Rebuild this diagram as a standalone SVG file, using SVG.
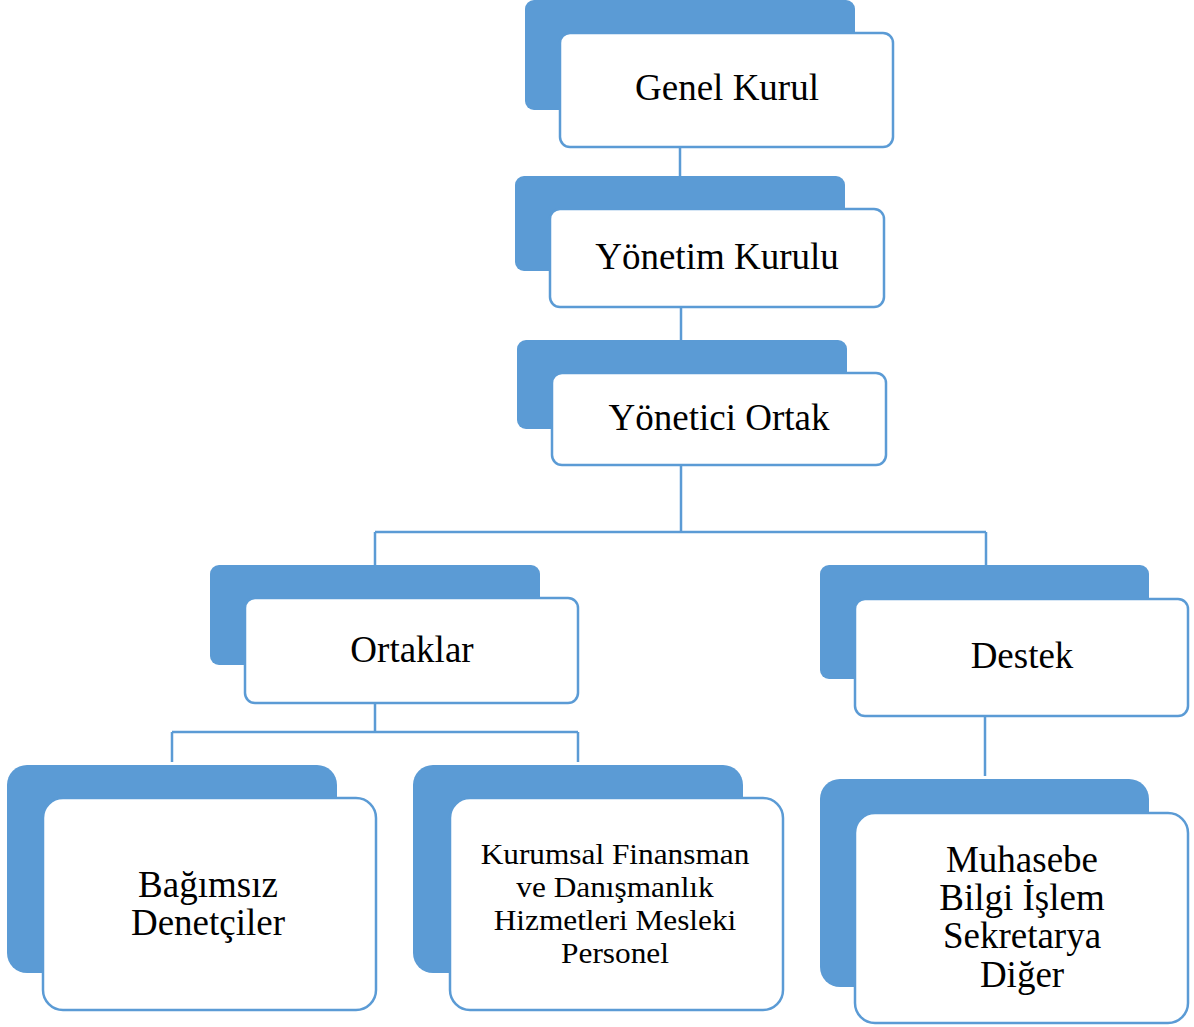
<svg xmlns="http://www.w3.org/2000/svg" width="1194" height="1027" viewBox="0 0 1194 1027">
<style>
.back{fill:#5B9BD5;}
.front{fill:#FFFFFF;stroke:#5B9BD5;stroke-width:2.5;}
.conn{fill:none;stroke:#5B9BD5;stroke-width:2.5;}
.t{font-family:"Liberation Serif","Times New Roman",serif;font-size:37px;fill:#000;text-anchor:middle;}
.s{font-family:"Liberation Serif","Times New Roman",serif;font-size:29px;fill:#000;text-anchor:middle;}
</style>
<rect width="1194" height="1027" fill="#FFFFFF"/>
<g id="connectors">
<path class="conn" d="M680,147 V176"/>
<path class="conn" d="M681,307 V340"/>
<path class="conn" d="M681,465 V532 M375,532 H986 M375,532 V565 M986,532 V565"/>
<path class="conn" d="M375,703 V732 M172,732 H578 M172,732 V762 M578,732 V762"/>
<path class="conn" d="M985,716 V776"/>
</g>
<g id="genel-kurul">
<rect class="back" x="525" y="0" width="330" height="110" rx="9"/>
<rect class="front" x="560" y="33" width="333" height="114" rx="10"/>
<text class="t" x="727" y="100">Genel Kurul</text>
</g>
<g id="yonetim-kurulu">
<rect class="back" x="515" y="176" width="330" height="95" rx="9"/>
<rect class="front" x="550" y="209" width="334" height="98" rx="10"/>
<text class="t" x="717" y="269">Yönetim Kurulu</text>
</g>
<g id="yonetici-ortak">
<rect class="back" x="517" y="340" width="330" height="89" rx="9"/>
<rect class="front" x="552" y="373" width="334" height="92" rx="10"/>
<text class="t" x="719" y="430">Yönetici Ortak</text>
</g>
<g id="ortaklar">
<rect class="back" x="210" y="565" width="330" height="100" rx="9"/>
<rect class="front" x="245" y="598" width="333" height="105" rx="10"/>
<text class="t" x="412" y="662">Ortaklar</text>
</g>
<g id="destek">
<rect class="back" x="820" y="565" width="329" height="114" rx="9"/>
<rect class="front" x="855" y="599" width="333" height="117" rx="10"/>
<text class="t" x="1022" y="668">Destek</text>
</g>
<g id="bagimsiz-denetciler">
<rect class="back" x="7" y="765" width="330" height="208" rx="20"/>
<rect class="front" x="43" y="798" width="333" height="212" rx="20"/>
<text class="t" x="208" y="897">Bağımsız</text>
<text class="t" x="208" y="935">Denetçiler</text>
</g>
<g id="kurumsal-finansman">
<rect class="back" x="413" y="765" width="330" height="208" rx="20"/>
<rect class="front" x="450" y="798" width="333" height="212" rx="20"/>
<g transform="translate(615,0) scale(1.08,1)">
<text class="s" x="0" y="864">Kurumsal Finansman</text>
<text class="s" x="0" y="897">ve Danışmanlık</text>
<text class="s" x="0" y="930">Hizmetleri Mesleki</text>
<text class="s" x="0" y="963">Personel</text>
</g>
</g>
<g id="muhasebe">
<rect class="back" x="820" y="779" width="329" height="208" rx="20"/>
<rect class="front" x="855" y="813" width="333" height="210" rx="20"/>
<text class="t" x="1022" y="872">Muhasebe</text>
<text class="t" x="1022" y="910">Bilgi İşlem</text>
<text class="t" x="1022" y="948">Sekretarya</text>
<text class="t" x="1022" y="987">Diğer</text>
</g>
</svg>
